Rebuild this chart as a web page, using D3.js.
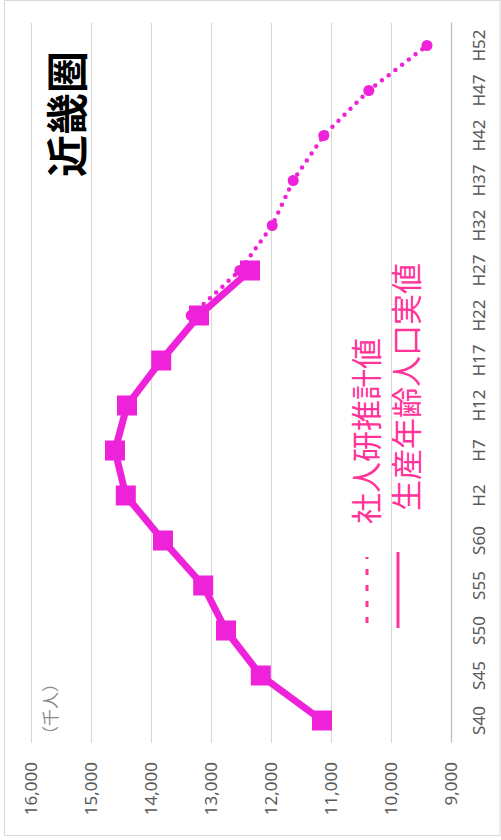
<!DOCTYPE html>
<html>
<head>
<meta charset="utf-8">
<script src="https://cdn.jsdelivr.net/npm/d3@7"></script>
<style>
  html, body { margin: 0; padding: 0; background: #fff; }
  svg { display: block; }
</style>
</head>
<body>
<svg id="chart" width="501" height="840"></svg>
<script>
// 近畿圏の生産年齢人口（千人）：実績値と社人研推計値
const categories = ["S40","S45","S50","S55","S60","H2","H7","H12","H17","H22","H27","H32","H37","H42","H47","H52"];
const actualValues = [11150, 12170, 12750, 13130, 13800, 14420, 14600, 14400, 13830, 13200, 12350, null, null, null, null, null];
const projectedValues = [null, null, null, null, null, null, null, null, null, 13330, 12520, 11980, 11630, 11120, 10370, 9400];
const valueTicks = [9000, 10000, 11000, 12000, 13000, 14000, 15000, 16000];

const title = "近畿圏";
const unitLabel = "（千人）";
const legendProjected = "社人研推計値";
const legendActual = "生産年齢人口実値";

const colorSeries = "#ee22d8";
const colorLegend = "#ff3399";
const colorGrid = "#d9d9d9";
const colorAxisText = "#595959";

// The chart is laid out landscape (840 x 501) and turned a quarter turn counter-clockwise.
const W = 840, H = 501;
const plot = { left: 97, right: 817, top: 31, bottom: 451 };

const svg = d3.select("#chart");
const g = svg.append("g").attr("transform", `translate(0,${W}) rotate(-90)`);

// outer frame
g.append("rect")
  .attr("x", 4.5).attr("y", 4.5)
  .attr("width", W - 5).attr("height", H - 5.5)
  .attr("fill", "none").attr("stroke", colorGrid).attr("stroke-width", 1);

const x = d3.scaleBand().domain(categories).range([plot.left, plot.right]);
const y = d3.scaleLinear().domain([9000, 16000]).range([plot.bottom, plot.top]);
const cx = d => x(d) + x.bandwidth() / 2;

// horizontal gridlines
const grid = g.append("g")
  .attr("transform", `translate(${plot.left},0)`)
  .call(d3.axisLeft(y).tickValues(valueTicks).tickSize(-(plot.right - plot.left)).tickFormat(""));
grid.select(".domain").remove();
grid.selectAll(".tick line").attr("stroke", colorGrid).attr("stroke-width", 1.2);

// value axis labels
const yAxis = g.append("g")
  .attr("transform", `translate(${plot.left},0)`)
  .call(d3.axisLeft(y).tickValues(valueTicks).tickSize(0).tickPadding(19).tickFormat(d3.format(",")));
yAxis.select(".domain").remove();
yAxis.selectAll("text")
  .attr("fill", colorAxisText)
  .style("font-family", "'Noto Sans', 'Open Sans', sans-serif")
  .style("font-size", "17px");

// category axis
const xAxis = g.append("g")
  .attr("transform", `translate(0,${plot.bottom})`)
  .call(d3.axisBottom(x).tickSize(0).tickPadding(22));
xAxis.select(".domain").attr("stroke", "#bfbfbf").attr("stroke-width", 1.2);
xAxis.selectAll("text")
  .attr("fill", colorAxisText)
  .style("font-family", "'Noto Sans', 'Open Sans', sans-serif")
  .style("font-size", "17px");

// unit label
g.append("text")
  .attr("x", plot.left)
  .attr("y", 49)
  .attr("dominant-baseline", "central")
  .attr("fill", "#8c8c8c")
  .style("font-family", "'Noto Sans CJK JP', sans-serif")
  .style("font-size", "17px")
  .text(unitLabel);

// projected series (dotted line with round markers)
const projPts = categories.map((c, i) => ({ c, v: projectedValues[i] })).filter(d => d.v != null);
g.append("path")
  .datum(projPts)
  .attr("fill", "none")
  .attr("stroke", colorSeries)
  .attr("stroke-width", 4.5)
  .attr("stroke-linecap", "round")
  .attr("stroke-dasharray", "0 8.5")
  .attr("d", d3.line().x(d => cx(d.c)).y(d => y(d.v)));
g.append("g").selectAll("circle")
  .data(projPts)
  .join("circle")
  .attr("cx", d => cx(d.c))
  .attr("cy", d => y(d.v))
  .attr("r", 5.5)
  .attr("fill", colorSeries);

// actual series (solid line with square markers)
const actPts = categories.map((c, i) => ({ c, v: actualValues[i] })).filter(d => d.v != null);
g.append("path")
  .datum(actPts)
  .attr("fill", "none")
  .attr("stroke", colorSeries)
  .attr("stroke-width", 7)
  .attr("stroke-linejoin", "round")
  .attr("d", d3.line().x(d => cx(d.c)).y(d => y(d.v)));
const sq = 20;
g.append("g").selectAll("rect")
  .data(actPts)
  .join("rect")
  .attr("x", d => cx(d.c) - sq / 2)
  .attr("y", d => y(d.v) - sq / 2)
  .attr("width", sq)
  .attr("height", sq)
  .attr("fill", colorSeries);

// title
g.append("text")
  .attr("x", 663)
  .attr("y", 64)
  .attr("dominant-baseline", "central")
  .attr("fill", "#000")
  .style("font-family", "'Noto Sans CJK JP', sans-serif")
  .style("font-weight", "bold")
  .style("font-size", "42px")
  .text(title);

// legend
const legend = g.append("g");
legend.append("line")
  .attr("x1", 217).attr("x2", 283)
  .attr("y1", 367).attr("y2", 367)
  .attr("stroke", colorLegend).attr("stroke-width", 3)
  .attr("stroke-dasharray", "6 10");
legend.append("text")
  .attr("x", 316).attr("y", 364)
  .attr("dominant-baseline", "central")
  .attr("fill", colorLegend)
  .style("font-family", "'Noto Sans CJK JP', sans-serif")
  .style("font-size", "31px")
  .text(legendProjected);
legend.append("line")
  .attr("x1", 212).attr("x2", 288)
  .attr("y1", 398).attr("y2", 398)
  .attr("stroke", colorLegend).attr("stroke-width", 3);
legend.append("text")
  .attr("x", 329).attr("y", 404)
  .attr("dominant-baseline", "central")
  .attr("fill", colorLegend)
  .style("font-family", "'Noto Sans CJK JP', sans-serif")
  .style("font-size", "31px")
  .text(legendActual);
</script>
</body>
</html>
